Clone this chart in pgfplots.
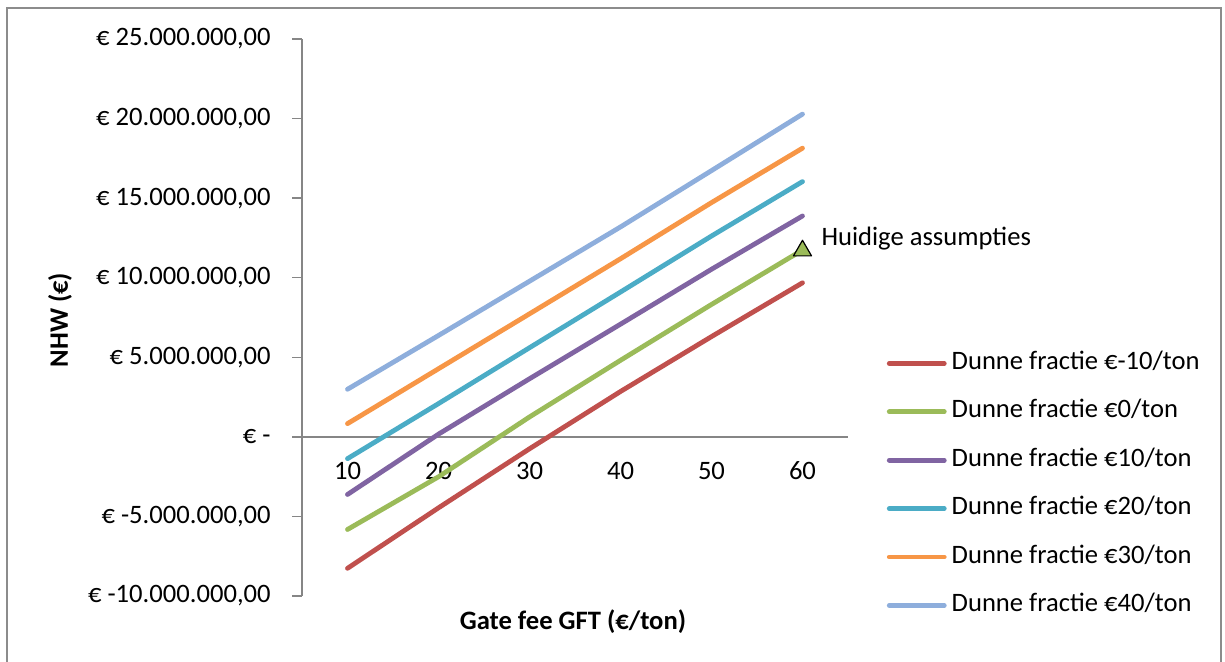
\documentclass[border=0pt]{standalone}
\usepackage{fontspec}
\setmainfont{Carlito}
\usepackage{pgfplots}
\pgfplotsset{compat=1.18}

\definecolor{sred}{HTML}{C0504D}
\definecolor{sgreen}{HTML}{9BBB59}
\definecolor{spurple}{HTML}{8064A2}
\definecolor{steal}{HTML}{4BACC6}
\definecolor{sorange}{HTML}{F79646}
\definecolor{slblue}{HTML}{8EAEDC}
\definecolor{axisgray}{HTML}{868686}
\definecolor{framegray}{HTML}{8C8C8C}

% NHW per scenario (dunne fractie), by gate fee GFT
\pgfplotstableread{
fee  m10       p0        p10       p20       p30       p40
10   -8260000  -5820000  -3620000  -1370000  830000    2990000
20   -4460000  -2510000  170000    2090000   4280000   6370000
30   -750000   1250000   3650000   5600000   7730000   9780000
40   2850000   4810000   7080000   9100000   11190000  13190000
50   6300000   8320000   10530000  12620000  14720000  16730000
60   9680000   11740000  13880000  16040000  18140000  20280000
}\nhwdata

\begin{document}
\begin{tikzpicture}[font=\fontsize{13.3}{16}\selectfont]
\useasboundingbox (0pt,0pt) rectangle (612.5pt,-331pt);
\draw[framegray, line width=1.2pt] (3.5pt,-4pt) rectangle (610.5pt,-360pt);
\begin{axis}[
  at={(151pt,-298pt)}, anchor=south west,
  scale only axis, width=273pt, height=278.5pt,
  xmin=5, xmax=65, ymin=-10000000, ymax=25000000,
  clip=false, scaled y ticks=false,
  axis x line=middle, axis y line=left,
  axis line style={axisgray, line width=0.75pt, -},
  hide obscured x ticks=false, hide obscured y ticks=false,
  xtick={10,20,30,40,50,60},
  xticklabels={10,20,30,40,50,60},
  x tick style={draw=none},
  xticklabel style={anchor=center, yshift=-12pt},
  ytick={-10000000,-5000000,0,5000000,10000000,15000000,20000000,25000000},
  yticklabels={{€ -10.000.000,00},{€ -5.000.000,00},{€ -\hspace{0.55em}},{€ 5.000.000,00},{€ 10.000.000,00},{€ 15.000.000,00},{€ 20.000.000,00},{€ 25.000.000,00}},
  y tick style={axisgray, line width=0.75pt},
  tick align=outside, major tick length=5pt,
  yticklabel style={anchor=east, inner sep=0pt, xshift=-10.5pt},
  xlabel={\bfseries Gate fee GFT (€/ton)},
  xlabel style={at={(axis description cs:0.4963,-0.0467)}, anchor=center},
  ylabel={\bfseries NHW (€)},
  ylabel style={at={(axis description cs:-0.4432,0.4955)}, anchor=center, rotate=0},
  legend style={draw=none, fill=none, at={(axis description cs:1.0705,0.4398)}, anchor=north west,
    inner sep=0pt, row sep=12.2pt,
    nodes={inner sep=0pt, text height=9pt, text depth=3pt, anchor=west},
    /tikz/every odd column/.append style={column sep=2.5pt}},
  legend cell align=left,
  legend image code/.code={\draw[#1, line width=2.4pt, line cap=round] (0pt,0pt) -- (27.5pt,0pt);},
  every axis plot/.append style={line width=2.4pt, line cap=round, line join=round},
]
\addplot[sred, no marks] table[x=fee, y=m10] {\nhwdata};
\addlegendentry{Dunne fractie €-10/ton}
\addplot[sgreen, no marks] table[x=fee, y=p0] {\nhwdata};
\addlegendentry{Dunne fractie €0/ton}
\addplot[spurple, no marks] table[x=fee, y=p10] {\nhwdata};
\addlegendentry{Dunne fractie €10/ton}
\addplot[steal, no marks] table[x=fee, y=p20] {\nhwdata};
\addlegendentry{Dunne fractie €20/ton}
\addplot[sorange, no marks] table[x=fee, y=p30] {\nhwdata};
\addlegendentry{Dunne fractie €30/ton}
\addplot[slblue, no marks] table[x=fee, y=p40] {\nhwdata};
\addlegendentry{Dunne fractie €40/ton}
% current assumptions marker
\addplot[forget plot, only marks, mark=triangle*, mark size=5.2pt,
  mark options={fill=sgreen, draw=black, line width=0.6pt}]
  coordinates {(60,11700000)}
  node[anchor=west, xshift=5pt, yshift=6pt, text=black] {Huidige assumpties};
\end{axis}
\end{tikzpicture}
\end{document}
